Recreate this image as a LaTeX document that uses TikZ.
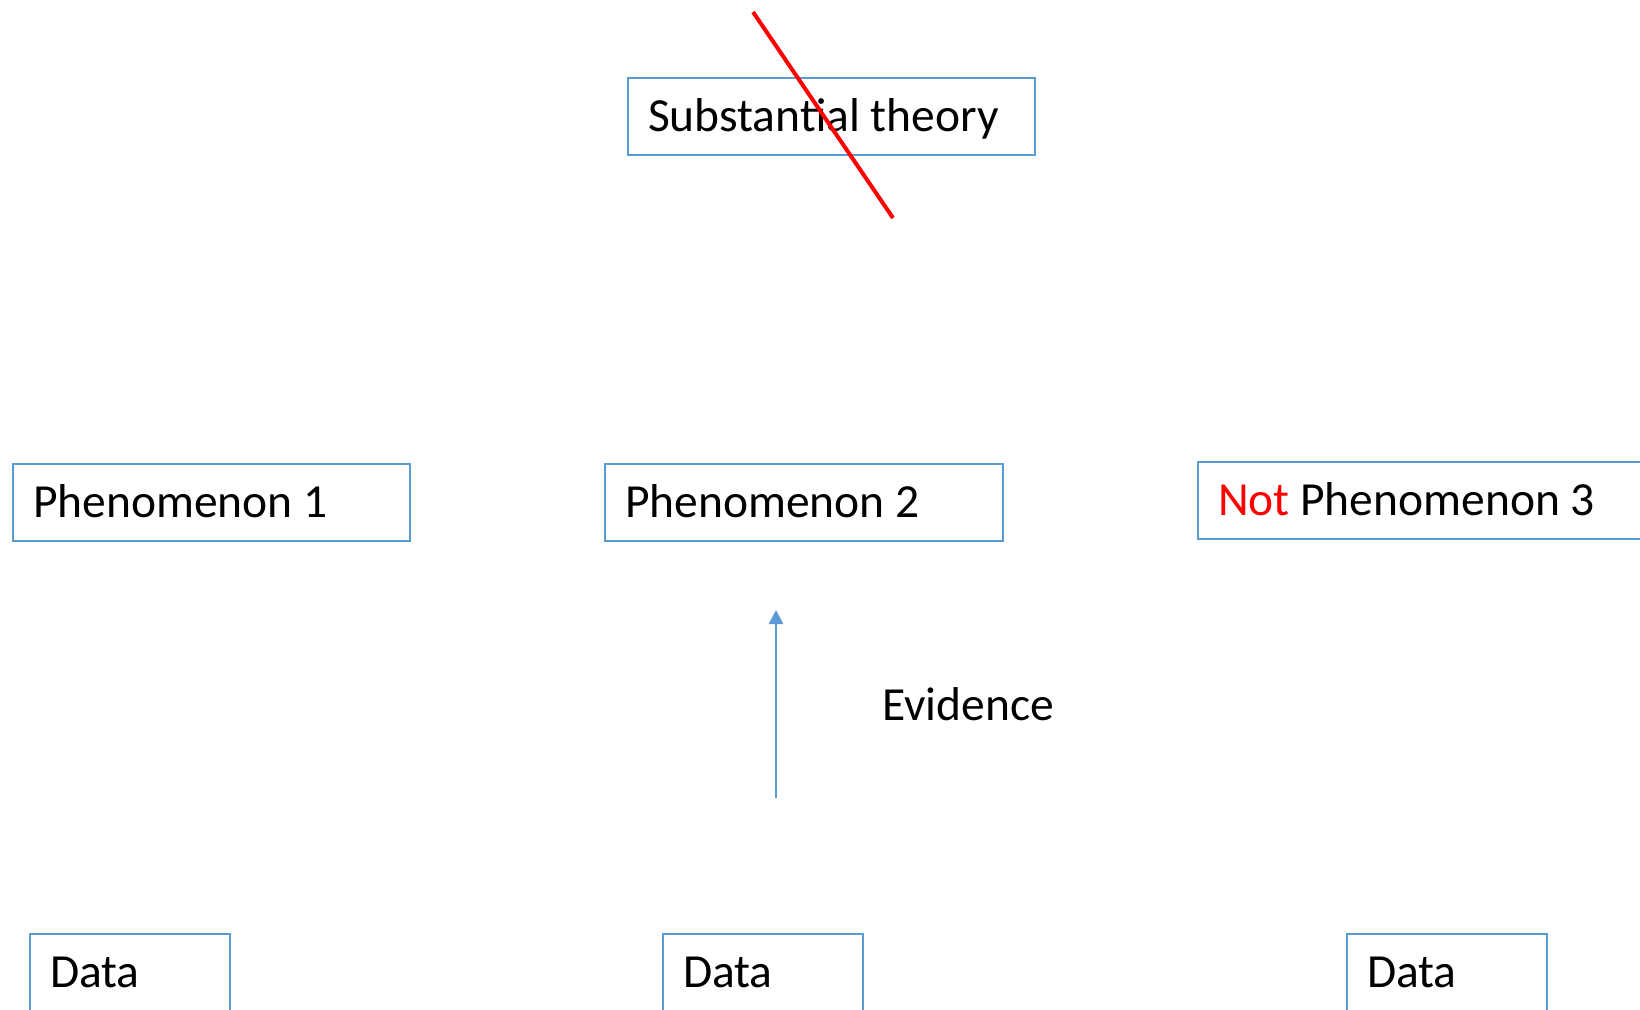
\documentclass[tikz,border=0pt]{standalone}
\usepackage{fontspec}
\setmainfont{Carlito}
\usetikzlibrary{arrows.meta}
\definecolor{boxblue}{RGB}{91,155,213}
\definecolor{strike}{RGB}{255,0,0}
\begin{document}
\begin{tikzpicture}[x=1pt,y=-1pt,
  every node/.style={font=\fontsize{47.5}{57}\selectfont},
  labelbox/.style={draw=boxblue, line width=2pt, anchor=north west,
    minimum height=77pt, inner xsep=20pt, inner ysep=0pt,
    text height=30.5pt, text depth=0pt, align=flush left},
  plain/.style={anchor=base west, inner sep=0pt}]
\useasboundingbox (0,0) rectangle (1640,1009);
\clip (0,0) rectangle (1640,1009);

% theory level
\node[labelbox, text width=367pt] (theory) at (627,77) {Substantial theory};

% phenomena level
\node[labelbox, text width=357pt] (ph1) at (12,463) {Phenomenon 1};
\node[labelbox, text width=358pt] (ph2) at (604,463) {Phenomenon 2};
\node[labelbox, text width=423pt] (ph3) at (1197,461) {\textcolor{strike}{Not} Phenomenon 3};

% data level
\node[labelbox, text width=160pt] (d1) at (29,933) {Data};
\node[labelbox, text width=160pt] (d2) at (662,933) {Data};
\node[labelbox, text width=160pt] (d3) at (1346,933) {Data};

% evidence arrow
\coordinate (evfoot) at (776,798);
\coordinate (evtip) at (776,610);
\draw[boxblue, line width=2.5pt, -{Triangle[length=14pt,width=14pt]}] (evfoot) -- (evtip);
\node[plain] (evidence) at (882,720) {Evidence};

% theory crossed out
\coordinate (crossA) at (753,12);
\coordinate (crossB) at (893,218);
\draw[strike, line width=4pt] (crossA) -- (crossB);
\end{tikzpicture}
\end{document}
